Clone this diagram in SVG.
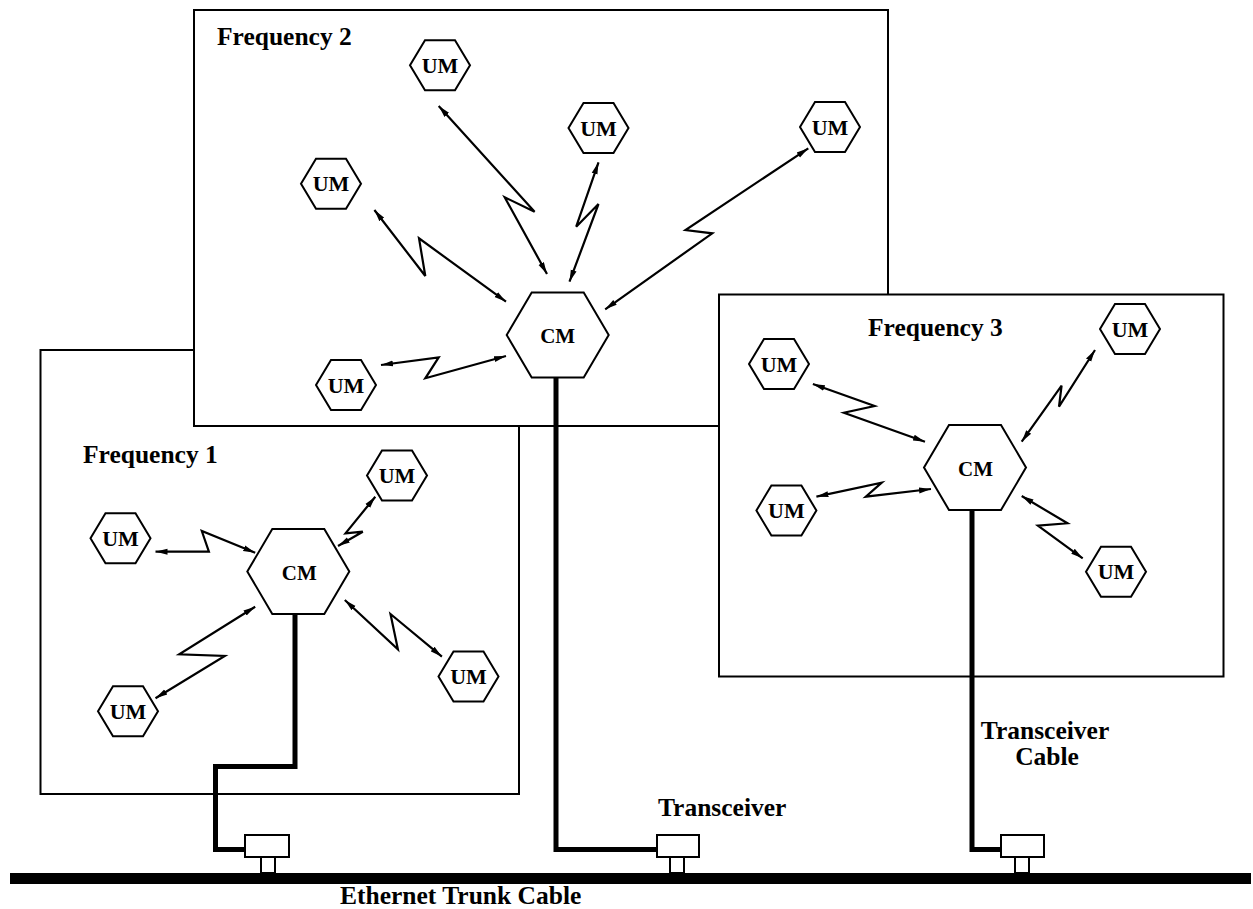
<svg xmlns="http://www.w3.org/2000/svg" xmlns:xlink="http://www.w3.org/1999/xlink" width="1253" height="909" viewBox="0 0 1253 909">
  <style>
    .frame { fill: #ffffff; stroke: #000; stroke-width: 2; }
    .hex { fill: #ffffff; stroke: #000; stroke-width: 2; stroke-linejoin: miter; }
    .lbl { font-family: "Liberation Serif", "Times New Roman", serif; font-weight: bold; fill: #000; }
    .um { font-size: 22px; text-anchor: middle; }
    .cm { font-size: 21px; text-anchor: middle; }
    .big { font-size: 25.5px; }
    .link { fill: none; stroke: #000; stroke-width: 2.2; stroke-linejoin: miter; marker-start: url(#tip); marker-end: url(#tip); }
    .cable { fill: none; stroke: #000; stroke-width: 5; stroke-linejoin: miter; }
    .xcvr { fill: #ffffff; stroke: #000; stroke-width: 2; }
  </style>
  <defs>
    <marker id="tip" markerUnits="userSpaceOnUse" markerWidth="12" markerHeight="8" refX="12" refY="4" orient="auto-start-reverse">
      <path d="M0,1 L12,4 L0,7 z" fill="#000"/>
    </marker>
    <polygon id="um-hex" class="hex" points="-30,0 -15,-25 15,-25 30,0 15,25 -15,25"/>
    <polygon id="cm-hex" class="hex" points="-51,0 -26,-42.5 26,-42.5 51,0 26,42.5 -26,42.5"/>
  </defs>

  <!-- frequency areas: drawn back to front -->
  <g id="area-1">
    <rect class="frame" x="40.5" y="350" width="478.5" height="444"/>
    <text class="lbl big" x="83" y="462.5">Frequency 1</text>
  </g>
  <g id="area-2">
    <rect class="frame" x="194" y="10" width="694" height="416"/>
    <text class="lbl big" x="217" y="45">Frequency 2</text>
  </g>
  <g id="area-3">
    <rect class="frame" x="719" y="294.5" width="504.5" height="382"/>
    <text class="lbl big" x="868" y="336">Frequency 3</text>
  </g>

  <!-- trunk, transceivers and transceiver cables -->
  <g id="trunk">
    <rect x="10" y="873" width="1241" height="11" fill="#000"/>
    <text class="lbl big" x="340" y="904">Ethernet Trunk Cable</text>
  </g>
  <g id="cables">
    <polyline class="cable" points="295,613 295,766.5 215.5,766.5 215.5,849.5 245,849.5"/>
    <polyline class="cable" points="556,377 556,849.5 657,849.5"/>
    <polyline class="cable" points="972,510 972,849.5 1001,849.5"/>
  </g>
  <g id="transceiver-1">
    <rect class="xcvr" x="261" y="856" width="14" height="17"/>
    <rect class="xcvr" x="245" y="835" width="44" height="22"/>
  </g>
  <g id="transceiver-2">
    <rect class="xcvr" x="670" y="856" width="14" height="17"/>
    <rect class="xcvr" x="657" y="835" width="42" height="22"/>
    <text class="lbl big" x="658" y="816">Transceiver</text>
  </g>
  <g id="transceiver-3">
    <rect class="xcvr" x="1015" y="856" width="14" height="17"/>
    <rect class="xcvr" x="1001" y="835" width="43" height="22"/>
  </g>
  <g id="cable-label">
    <text class="lbl big" x="1045" y="739" text-anchor="middle">Transceiver</text>
    <text class="lbl big" x="1047" y="765" text-anchor="middle">Cable</text>
  </g>

  <!-- radio links (zig-zag, arrow at both ends) -->
  <g id="links">
    <polyline class="link" points="438.7,106 534.6,211.7 504.7,197.3 547,274"/>
    <polyline class="link" points="598.5,162.3 576.2,226.7 598.5,204 569.5,281.7"/>
    <polyline class="link" points="808.3,148.3 685.5,230 712.3,233.3 605.2,309.3"/>
    <polyline class="link" points="374.4,210 425.3,276 419,238.3 506,301.7"/>
    <polyline class="link" points="381,365 438.7,357.3 425.3,378.3 506,356"/>

    <polyline class="link" points="375.3,496.7 345.5,533.3 362.8,531.7 338,546"/>
    <polyline class="link" points="155.5,551.7 208.9,551.7 201.8,531 255.2,552.7"/>
    <polyline class="link" points="155.5,698.3 224.8,656 179.2,654.3 255.2,606.7"/>
    <polyline class="link" points="441.9,656.7 390.5,614 397.9,649.3 344.8,600"/>

    <polyline class="link" points="812.9,384 874.6,406 843.9,412.7 925,441.7"/>
    <polyline class="link" points="1095,350 1059,406.7 1061.6,385.7 1021.7,441.7"/>
    <polyline class="link" points="816.4,496.7 881.7,482.7 865.8,496.7 931,489"/>
    <polyline class="link" points="1082.7,558.3 1037.9,525.7 1067.5,523.3 1021.7,496"/>
  </g>

  <!-- concentrator modules -->
  <g id="cm-1" transform="translate(298.3,571.5)">
    <use xlink:href="#cm-hex" href="#cm-hex"/>
    <text class="lbl cm" x="1" y="8">CM</text>
  </g>
  <g id="cm-2" transform="translate(557.7,335)">
    <use xlink:href="#cm-hex" href="#cm-hex"/>
    <text class="lbl cm" x="0" y="8">CM</text>
  </g>
  <g id="cm-3" transform="translate(975,467.5)">
    <use xlink:href="#cm-hex" href="#cm-hex"/>
    <text class="lbl cm" x="0.5" y="8">CM</text>
  </g>

  <!-- user modules, frequency 2 -->
  <g id="um-2a" transform="translate(440,65.3)"><use xlink:href="#um-hex" href="#um-hex"/><text class="lbl um" x="0" y="7.7">UM</text></g>
  <g id="um-2b" transform="translate(598.5,128)"><use xlink:href="#um-hex" href="#um-hex"/><text class="lbl um" x="0" y="7.7">UM</text></g>
  <g id="um-2c" transform="translate(830,127)"><use xlink:href="#um-hex" href="#um-hex"/><text class="lbl um" x="0" y="7.7">UM</text></g>
  <g id="um-2d" transform="translate(331,183.7)"><use xlink:href="#um-hex" href="#um-hex"/><text class="lbl um" x="0" y="7.7">UM</text></g>
  <g id="um-2e" transform="translate(346,385)"><use xlink:href="#um-hex" href="#um-hex"/><text class="lbl um" x="0" y="7.7">UM</text></g>

  <!-- user modules, frequency 1 -->
  <g id="um-1a" transform="translate(397,475.5)"><use xlink:href="#um-hex" href="#um-hex"/><text class="lbl um" x="0" y="7.7">UM</text></g>
  <g id="um-1b" transform="translate(120.5,538.3)"><use xlink:href="#um-hex" href="#um-hex"/><text class="lbl um" x="0" y="7.7">UM</text></g>
  <g id="um-1c" transform="translate(468.5,676.5)"><use xlink:href="#um-hex" href="#um-hex"/><text class="lbl um" x="0" y="7.7">UM</text></g>
  <g id="um-1d" transform="translate(128,711.3)"><use xlink:href="#um-hex" href="#um-hex"/><text class="lbl um" x="0" y="7.7">UM</text></g>

  <!-- user modules, frequency 3 -->
  <g id="um-3a" transform="translate(779,364)"><use xlink:href="#um-hex" href="#um-hex"/><text class="lbl um" x="0" y="7.7">UM</text></g>
  <g id="um-3b" transform="translate(1130,329)"><use xlink:href="#um-hex" href="#um-hex"/><text class="lbl um" x="0" y="7.7">UM</text></g>
  <g id="um-3c" transform="translate(786.4,510.5)"><use xlink:href="#um-hex" href="#um-hex"/><text class="lbl um" x="0" y="7.7">UM</text></g>
  <g id="um-3d" transform="translate(1116,571.7)"><use xlink:href="#um-hex" href="#um-hex"/><text class="lbl um" x="0" y="7.7">UM</text></g>
</svg>
